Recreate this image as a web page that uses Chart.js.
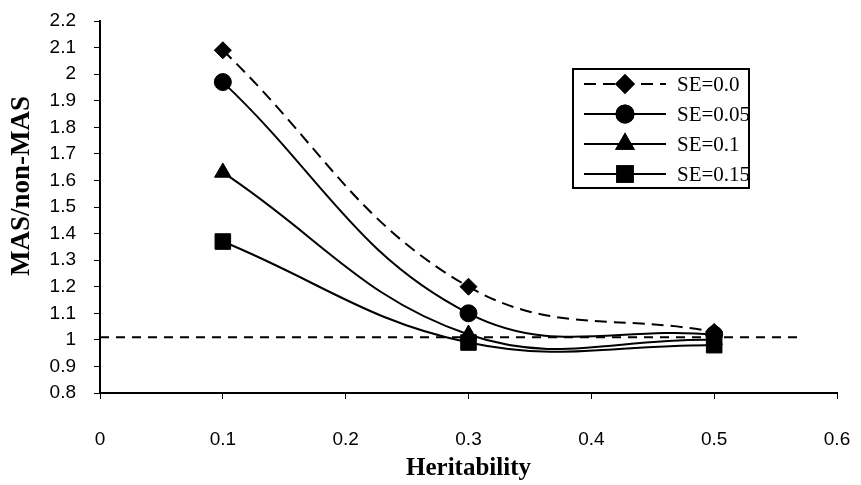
<!DOCTYPE html>
<html>
<head>
<meta charset="utf-8">
<script src="https://cdn.jsdelivr.net/npm/chart.js@4"></script>
<style>
  html, body { margin: 0; padding: 0; background: #fff; }
  #wrap { width: 861px; height: 485px; }
</style>
</head>
<body>
<div id="wrap"><canvas id="c" width="861" height="485"></canvas></div>
<script>
// ---- data ----
const heritability = [0.1, 0.3, 0.5];
const seriesNames = ['SE=0.0', 'SE=0.05', 'SE=0.1', 'SE=0.15'];
const se00 = [2.09, 1.20, 1.03];
const se05 = [1.97, 1.10, 1.02];
const se10 = [1.63, 1.02, 1.00];
const se15 = [1.37, 0.99, 0.98];
const refLineX = [0, 0.57];
const refLineY = [1.01, 1.01];
const xTicks = [0, 0.1, 0.2, 0.3, 0.4, 0.5, 0.6];
const yMin = 0.8, yMax = 2.2, yStep = 0.1;
const xTitle = 'Heritability';
const yTitle = 'MAS/non-MAS';

const toPts = (xs, ys) => xs.map((x, i) => ({x: x, y: ys[i]}));

const styles = [
  {pointStyle: 'rectRot', radius: 8.5, dash: [12, 7]},
  {pointStyle: 'circle', radius: 8.5, dash: []},
  {pointStyle: 'triangle', radius: 9.5, dash: []},
  {pointStyle: 'rect', radius: 11, dash: []}
];
const seriesVals = [se00, se05, se10, se15];

const datasets = seriesVals.map((vals, i) => ({
  label: seriesNames[i],
  data: toPts(heritability, vals),
  borderColor: '#000',
  backgroundColor: '#000',
  borderWidth: 2,
  borderDash: styles[i].dash,
  pointStyle: styles[i].pointStyle,
  pointRadius: styles[i].radius,
  pointBorderWidth: 1,
  pointBackgroundColor: '#000',
  pointBorderColor: '#000',
  tension: 0.4,
  fill: false,
  order: 1
}));
datasets.push({
  label: 'ref',
  data: toPts(refLineX, refLineY),
  borderColor: '#000',
  borderWidth: 2,
  borderDash: [9, 7],
  pointRadius: 0,
  tension: 0,
  fill: false,
  order: 2
});

const legendPlugin = {
  id: 'customLegend',
  afterDraw(chart) {
    const ctx = chart.ctx;
    ctx.save();
    // y-axis title (drawn manually to match its off-centre position)
    ctx.save();
    ctx.translate(22, 186);
    ctx.rotate(-Math.PI / 2);
    ctx.fillStyle = '#000';
    ctx.font = 'bold 27px "Liberation Serif", "Times New Roman", serif';
    ctx.textAlign = 'center';
    ctx.textBaseline = 'middle';
    ctx.fillText(yTitle, 0, 0);
    ctx.restore();

    const bx = 573, by = 69, bw = 176, bh = 119;
    ctx.fillStyle = '#fff';
    ctx.fillRect(bx, by, bw, bh);
    ctx.strokeStyle = '#000';
    ctx.lineWidth = 2;
    ctx.strokeRect(bx, by, bw, bh);
    const rows = [84, 114, 144, 174];
    seriesNames.forEach((name, i) => {
      const y = rows[i];
      ctx.beginPath();
      ctx.setLineDash(styles[i].dash.length ? [12, 7] : []);
      ctx.lineWidth = 2;
      ctx.strokeStyle = '#000';
      ctx.moveTo(584, y);
      ctx.lineTo(666, y);
      ctx.stroke();
      ctx.setLineDash([]);
      ctx.fillStyle = '#000';
      Chart.helpers.drawPoint(ctx, {
        pointStyle: styles[i].pointStyle,
        radius: styles[i].radius,
        rotation: 0,
        borderWidth: 1
      }, 625, y);
      ctx.fill();
      ctx.stroke();
      ctx.fillStyle = '#000';
      ctx.font = '21px "Liberation Serif", "Times New Roman", serif';
      ctx.textBaseline = 'middle';
      ctx.textAlign = 'left';
      ctx.fillText(name, 677, y + 1);
    });
    ctx.restore();
  }
};

const fmt = v => String(Number(v.toFixed(1)));

new Chart(document.getElementById('c'), {
  type: 'line',
  data: { datasets: datasets },
  options: {
    responsive: false,
    animation: false,
    devicePixelRatio: 1,
    layout: { padding: { top: 21, right: 24, left: 0, bottom: 0 } },
    plugins: { legend: { display: false }, tooltip: { enabled: false } },
    scales: {
      x: {
        type: 'linear',
        min: 0, max: 0.6,
        afterFit(s) { s.height = 92; s.paddingLeft = 0; s.paddingRight = 0; },
        afterBuildTicks(s) { s.ticks = xTicks.map(v => ({value: v})); },
        border: { display: true, color: '#000', width: 2 },
        grid: { display: true, drawOnChartArea: false, drawTicks: true, tickLength: 6, color: '#000', lineWidth: 1 },
        ticks: {
          color: '#000',
          font: { family: '"Liberation Sans", Arial, sans-serif', size: 19 },
          padding: 29,
          maxRotation: 0,
          callback: v => fmt(v)
        },
        title: {
          display: true,
          text: xTitle,
          color: '#000',
          font: { family: '"Liberation Serif", "Times New Roman", serif', size: 25, weight: 'bold' },
          padding: { top: 0, bottom: 1 }
        }
      },
      y: {
        type: 'linear',
        min: yMin, max: yMax,
        afterFit(s) { s.width = 100; s.paddingTop = 0; s.paddingBottom = 0; },
        border: { display: true, color: '#000', width: 2 },
        grid: { display: true, drawOnChartArea: false, drawTicks: true, tickLength: 6, color: '#000', lineWidth: 1 },
        ticks: {
          stepSize: yStep,
          color: '#000',
          font: { family: '"Liberation Sans", Arial, sans-serif', size: 19 },
          padding: 18,
          callback: v => fmt(v)
        },
        title: { display: false }
      }
    }
  },
  plugins: [legendPlugin]
});
</script>
</body>
</html>
